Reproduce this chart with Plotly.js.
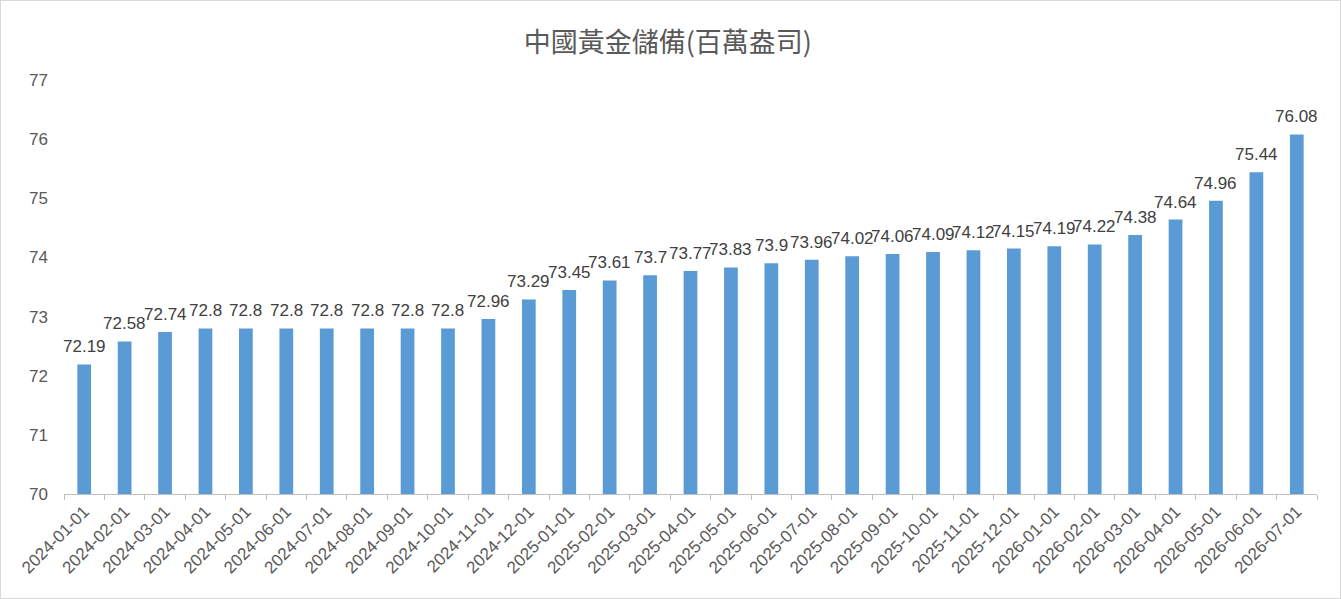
<!DOCTYPE html>
<html>
<head>
<meta charset="utf-8">
<script src="https://cdn.plot.ly/plotly-3.0.1.min.js"></script>
<style>
html,body{margin:0;padding:0;background:#fff;}
#wrap{position:relative;width:1341px;height:599px;}
#chart{width:1341px;height:599px;}
#frame{position:absolute;left:0;top:0;width:1339px;height:597px;border:1px solid #d9d9d9;pointer-events:none;}
</style>
</head>
<body>
<div id="wrap"><div id="chart"></div><div id="frame"></div></div>
<script>
const categories = [
  "2024-01-01","2024-02-01","2024-03-01","2024-04-01","2024-05-01","2024-06-01",
  "2024-07-01","2024-08-01","2024-09-01","2024-10-01","2024-11-01","2024-12-01",
  "2025-01-01","2025-02-01","2025-03-01","2025-04-01","2025-05-01","2025-06-01",
  "2025-07-01","2025-08-01","2025-09-01","2025-10-01","2025-11-01","2025-12-01",
  "2026-01-01","2026-02-01","2026-03-01","2026-04-01","2026-05-01","2026-06-01",
  "2026-07-01"
];
const reserves = [
  72.19,72.58,72.74,72.8,72.8,72.8,
  72.8,72.8,72.8,72.8,72.96,73.29,
  73.45,73.61,73.7,73.77,73.83,73.9,
  73.96,74.02,74.06,74.09,74.12,74.15,
  74.19,74.22,74.38,74.64,74.96,75.44,
  76.08
];
const yTicks = [70,71,72,73,74,75,76,77];
const titleText = "中國黃金儲備(百萬盎司)";

const trace = {
  type: "bar",
  x: categories,
  y: reserves,
  marker: {color: "#5B9BD5"},
  hoverinfo: "x+y"
};

const labels = categories.map((c, i) => ({
  x: c, y: reserves[i], xref: "x", yref: "y",
  text: String(reserves[i]),
  showarrow: false,
  yanchor: "bottom",
  yshift: 6,
  font: {family: "Liberation Sans, Arial, sans-serif", size: 17, color: "#404040"}
}));

const layout = {
  width: 1341,
  height: 599,
  margin: {l: 64, r: 24, t: 80, b: 105, autoexpand: false},
  paper_bgcolor: "#ffffff",
  plot_bgcolor: "#ffffff",
  bargap: 0.66,
  showlegend: false,
  annotations: labels,
  title: {
    text: titleText,
    x: 0.498, xref: "container", xanchor: "center",
    y: 1 - 43/599, yref: "container", yanchor: "middle",
    font: {family: "Noto Sans CJK TC, sans-serif", size: 27, color: "#595959"}
  },
  xaxis: {
    type: "category",
    range: [-0.5, categories.length - 0.5],
    tickangle: -45,
    tickson: "boundaries",
    ticks: "outside",
    ticklen: 5,
    tickcolor: "#bfbfbf",
    showline: true,
    linecolor: "#bfbfbf",
    linewidth: 1,
    showgrid: false,
    zeroline: false,
    tickfont: {family: "Liberation Sans, Arial, sans-serif", size: 17, color: "#595959"},
    automargin: false
  },
  yaxis: {
    range: [70, 77],
    tickvals: yTicks,
    ticktext: yTicks.map(String),
    showgrid: false,
    zeroline: false,
    showline: false,
    ticks: "",
    ticklabelstandoff: 15,
    tickfont: {family: "Liberation Sans, Arial, sans-serif", size: 17, color: "#595959"},
    automargin: false
  }
};

Plotly.newPlot("chart", [trace], layout, {displayModeBar: false, staticPlot: true});
</script>
</body>
</html>
